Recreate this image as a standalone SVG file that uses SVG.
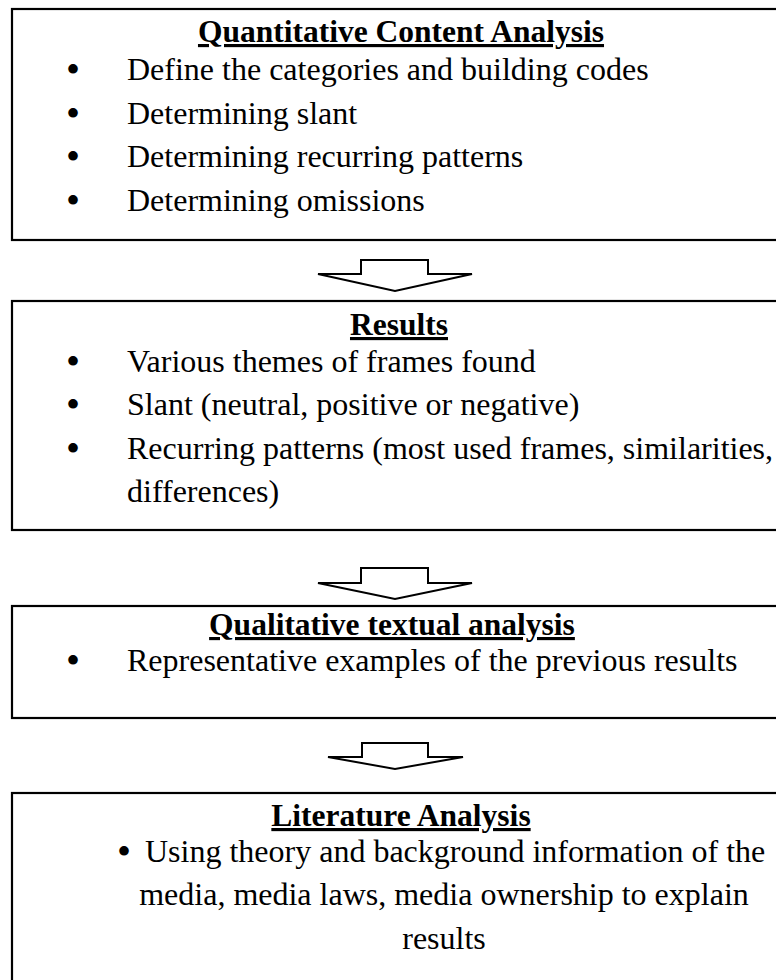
<svg xmlns="http://www.w3.org/2000/svg" width="776" height="980" viewBox="0 0 776 980">
<style>
.box{fill:#fff;stroke:#000;stroke-width:2.2}
.arr{fill:#fff;stroke:#000;stroke-width:2;stroke-linejoin:miter}
.t{font-family:"Liberation Serif","Times New Roman",serif;font-size:32px;fill:#000}
.b{font-family:"Liberation Serif","Times New Roman",serif;font-size:40px;fill:#000;text-anchor:middle}
.h{font-family:"Liberation Serif","Times New Roman",serif;font-size:31.5px;font-weight:bold;fill:#000;text-anchor:middle;text-decoration:underline;text-decoration-thickness:2.5px}
.c{text-anchor:middle}
</style>
<rect width="776" height="980" fill="#fff"/>
<g id="box-quantitative">
<rect class="box" x="12" y="9" width="780" height="231"/>
<text class="h" x="401" y="42">Quantitative Content Analysis</text>
<text class="b" x="73" y="83">•</text><text class="t" x="127" y="80">Define the categories and building codes</text>
<text class="b" x="73" y="127">•</text><text class="t" x="127" y="124">Determining slant</text>
<text class="b" x="73" y="170">•</text><text class="t" x="127" y="167">Determining recurring patterns</text>
<text class="b" x="73" y="214">•</text><text class="t" x="127" y="211">Determining omissions</text>
</g>
<g id="box-results">
<rect class="box" x="12" y="301" width="780" height="229"/>
<text class="h" x="399" y="335">Results</text>
<text class="b" x="73" y="375">•</text><text class="t" x="127" y="372">Various themes of frames found</text>
<text class="b" x="73" y="418">•</text><text class="t" x="127" y="415">Slant (neutral, positive or negative)</text>
<text class="b" x="73" y="462">•</text><text class="t" x="127" y="459">Recurring patterns (most used frames, similarities,</text>
<text class="t" x="127" y="502">differences)</text>
</g>
<g id="box-qualitative">
<rect class="box" x="12" y="606" width="780" height="112"/>
<text class="h" x="392" y="635">Qualitative textual analysis</text>
<text class="b" x="73" y="674">•</text><text class="t" x="127" y="671">Representative examples of the previous results</text>
</g>
<g id="box-literature">
<rect class="box" x="12" y="793" width="780" height="200"/>
<text class="h" x="401" y="826">Literature Analysis</text>
<text class="b" x="124" y="865">•</text>
<text class="t" x="145" y="862">Using theory and background information of the</text>
<text class="t c" x="444" y="905">media, media laws, media ownership to explain</text>
<text class="t c" x="444" y="949">results</text>
</g>
<g id="connectors">
<path class="arr" d="M361,274 V260 H428 V274 H472 L395,291 L318,274 Z"/>
<path class="arr" d="M361,583 V568 H428 V583 H472 L395,599 L318,583 Z"/>
<path class="arr" d="M362,757 V743 H428 V757 H463 L395,769 L328,757 Z"/>
</g>
</svg>
